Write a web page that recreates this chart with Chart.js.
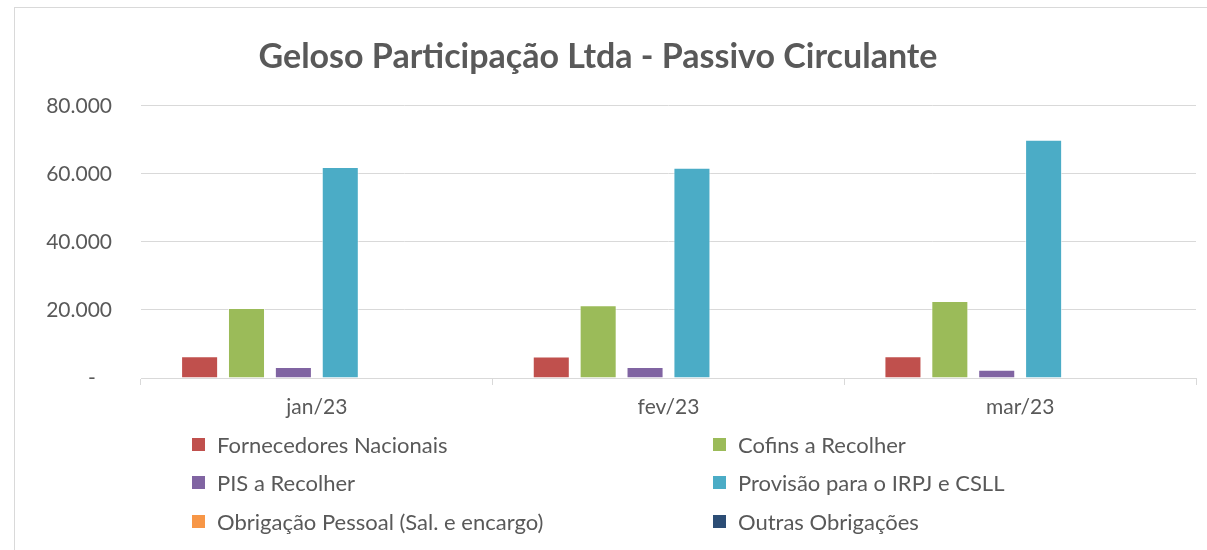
<!DOCTYPE html>
<html>
<head>
<meta charset="utf-8">
<script src="https://cdn.jsdelivr.net/npm/chart.js@4/dist/chart.umd.min.js"></script>
<style>
  html, body { margin: 0; padding: 0; background: #fff; width: 1207px; height: 550px; overflow: hidden; }
  #frame { position: absolute; left: 14px; top: 7px; width: 1300px; height: 700px; border: 1px solid #d9d9d9; box-sizing: border-box; }
  #wrap { position: absolute; left: 0; top: 0; width: 1207px; height: 430px; }
  #legend { position: absolute; left: 0; top: 0; width: 1207px; height: 550px; pointer-events: none; }
  .li { position: absolute; display: flex; align-items: center; font-family: Lato, "Open Sans", sans-serif; font-size: 22px; color: #595959; white-space: nowrap; height: 30px; }
  .li span.box { display: inline-block; width: 13px; height: 13px; margin-right: 12px; }
</style>
</head>
<body>
<div id="frame"></div>
<div id="wrap"><canvas id="c" width="1207" height="430"></canvas></div>
<div id="legend"></div>
<script>
const categories = ["jan/23", "fev/23", "mar/23"];
const seriesNames = [
  "Fornecedores Nacionais",
  "Cofins a Recolher",
  "PIS a Recolher",
  "Provisão para o IRPJ e CSLL",
  "Obrigação Pessoal (Sal. e encargo)",
  "Outras Obrigações"
];
const fornecedores = [6400, 6300, 6400];
const cofins = [20600, 21400, 22600];
const pis = [3200, 3200, 2400];
const provisao = [62000, 61800, 70000];
const obrigacaoPessoal = [0, 0, 0];
const outras = [0, 0, 0];
const seriesValues = [fornecedores, cofins, pis, provisao, obrigacaoPessoal, outras];
const seriesColors = ["#C0504D", "#9BBB59", "#8064A2", "#4BACC6", "#F79646", "#2C4D75"];
const yTicks = [0, 20000, 40000, 60000, 80000];
const titleText = "Geloso Participação Ltda - Passivo Circulante";

function fmt(v) {
  if (v === 0) return "-   ";
  return String(v).replace(/\B(?=(\d{3})+(?!\d))/g, ".");
}

const textColor = "#595959";
const gridColor = "#d9d9d9";

const chart = new Chart(document.getElementById("c"), {
  type: "bar",
  data: {
    labels: categories,
    datasets: seriesNames.map((n, i) => ({
      label: n,
      data: seriesValues[i],
      backgroundColor: seriesColors[i],
      borderColor: "rgba(255,255,255,0.6)",
      borderWidth: 1,
      categoryPercentage: 0.8,
      barPercentage: 0.79
    }))
  },
  options: {
    responsive: false,
    animation: false,
    layout: { padding: { left: 0, right: 11, top: 0, bottom: 0 } },
    plugins: {
      legend: { display: false },
      tooltip: { enabled: false },
      title: {
        display: true,
        text: titleText,
        color: textColor,
        font: { family: "Lato", size: 34, weight: "bold", lineHeight: 1.2 },
        padding: { top: 37, bottom: 28 }
      }
    },
    scales: {
      x: {
        grid: { display: true, drawOnChartArea: false, drawTicks: true, tickLength: 7, color: gridColor, offset: true },
        border: { display: true, color: gridColor, width: 1 },
        ticks: { color: textColor, font: { family: "Lato", size: 21 }, padding: 10, maxRotation: 0 },
        afterFit: s => { s.height = 52; }
      },
      y: {
        min: 0,
        max: 80000,
        afterBuildTicks: s => { s.ticks = yTicks.map(v => ({ value: v })); },
        grid: { color: gridColor, drawTicks: false, lineWidth: 1 },
        border: { display: false },
        ticks: { color: textColor, font: { family: "Lato", size: 21 }, padding: 29, callback: v => fmt(v) },
        afterFit: s => { s.width = 141; }
      }
    }
  }
});

// HTML legend built from the chart's datasets (two columns, Excel-like)
const legend = document.getElementById("legend");
const colX = [192, 713];
const rowY = [444, 482, 521];
chart.data.datasets.forEach((ds, i) => {
  const d = document.createElement("div");
  d.className = "li";
  d.style.left = colX[i % 2] + "px";
  d.style.top = (rowY[Math.floor(i / 2)] - 15) + "px";
  const b = document.createElement("span");
  b.className = "box";
  b.style.background = ds.backgroundColor;
  d.appendChild(b);
  d.appendChild(document.createTextNode(ds.label));
  legend.appendChild(d);
});
</script>
</body>
</html>
